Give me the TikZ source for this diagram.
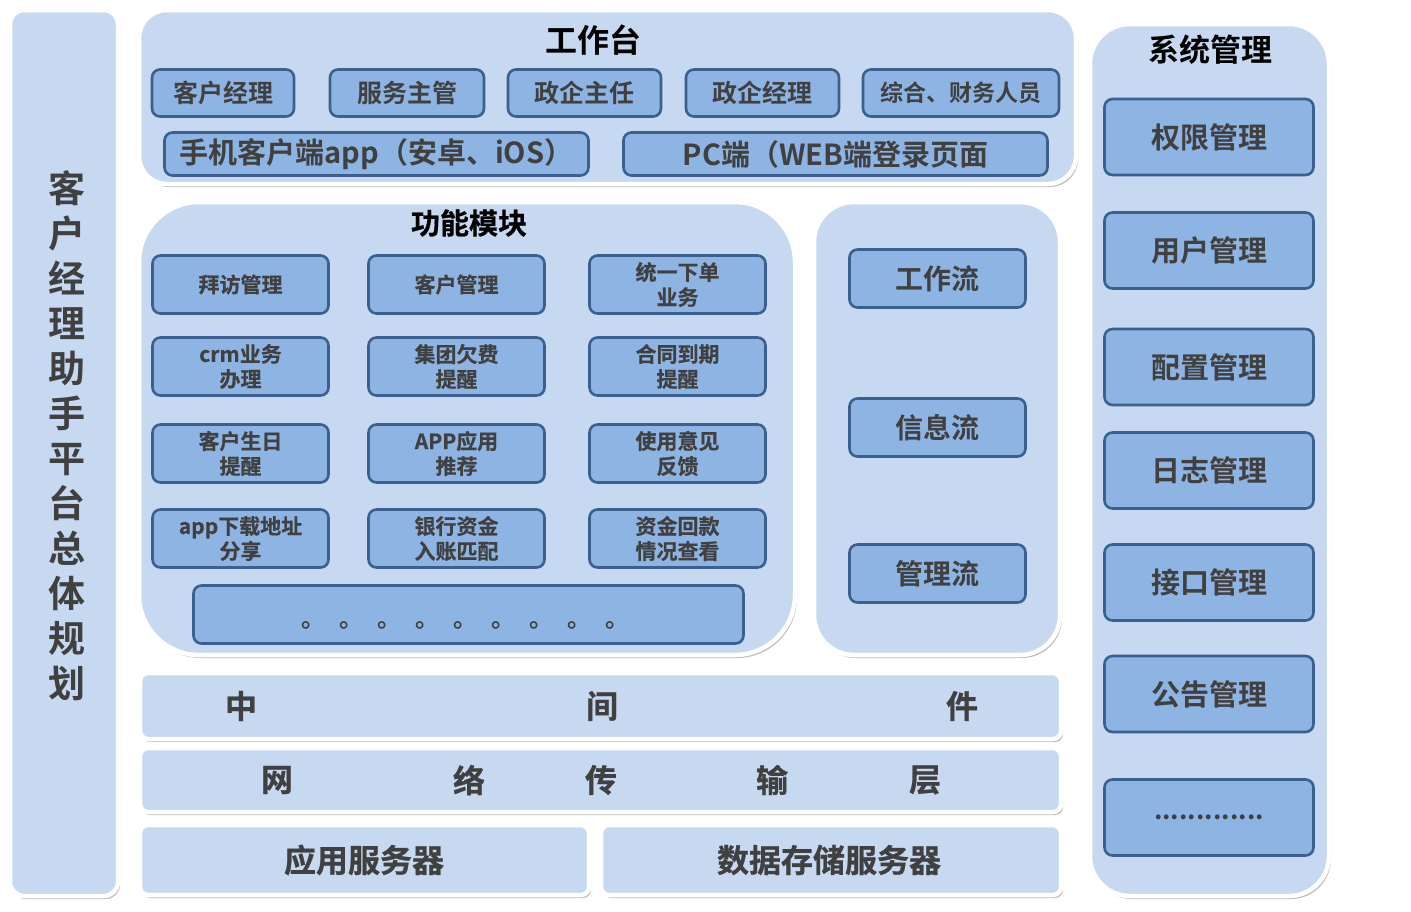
\documentclass[tikz,border=0pt]{standalone}
\usepackage{fontspec}
\setmainfont{Noto Sans CJK SC Bold}
\newfontfamily\barfont{Noto Sans CJK SC Bold}[FakeBold=0.8]
\newfontfamily\gridfont{Noto Sans CJK SC Bold}[FakeBold=0.5]
\usepackage{xcolor}
\usetikzlibrary{positioning,shadows}

\definecolor{panelfill}{HTML}{C6D9F1}
\definecolor{boxfill}{HTML}{8EB4E3}
\definecolor{boxline}{HTML}{3B5F8E}
\definecolor{labelgray}{HTML}{404040}

\begin{document}
\begin{tikzpicture}[
  x=1pt,
  y=-1pt,
  panel/.style={fill=panelfill, draw=white, line width=4.5pt,
    drop shadow={shadow xshift=2pt, shadow yshift=-3pt, opacity=0.45, fill=black!60}},
  modbox/.style={draw=boxline, fill=boxfill, line width=2.6pt, rounded corners=8pt,
    text=labelgray, inner sep=0pt, align=center},
  paneltitle/.style={text=black, inner sep=0pt},
  gridlabel/.style={text=labelgray, align=center, font=\gridfont\fontsize{21}{25}\selectfont},
  barchar/.style={text=labelgray, inner sep=0pt, font=\barfont\fontsize{32}{36}\selectfont},
]
\path[use as bounding box] (0,0) rectangle (1411,911);

% Panels.
\path[panel, rounded corners=14pt] (10,10) rectangle (118,896);
\path[panel, rounded corners=28pt] (139,10) rectangle (1076,184);
\path[panel, rounded corners=60pt] (139,202) rectangle (795,655);
\path[panel, rounded corners=40pt] (814,202) rectangle (1060,655);
\path[panel, rounded corners=40pt] (1090,24) rectangle (1329,896);
\path[panel, rounded corners=8pt] (140,673) rectangle (1061,739);
\path[panel, rounded corners=8pt] (140,748) rectangle (1061,812);
\path[panel, rounded corners=8pt] (140,825) rectangle (589,895);
\path[panel, rounded corners=8pt] (601,825) rectangle (1061,895);

% Left title, one character per line.
\node[text=labelgray, align=center, inner sep=0pt,
  font=\fontsize{37}{45}\selectfont] (plan) at (67,436)
  {客\\户\\经\\理\\助\\手\\平\\台\\总\\体\\规\\划};

% Workbench.
\node[paneltitle, font=\fontsize{32}{36}\selectfont] (wbtitle) at (593,40) {工作台};
\node[modbox, minimum width=142pt, minimum height=47pt, font=\fontsize{25}{28}\selectfont] (mgr) at (223,93) {客户经理};
\node[modbox, minimum width=154pt, minimum height=47pt, font=\fontsize{25}{28}\selectfont] (svc) at (407,93) {服务主管};
\node[modbox, minimum width=153pt, minimum height=47pt, font=\fontsize{25}{28}\selectfont] (gdir) at (584.5,93) {政企主任};
\node[modbox, minimum width=153pt, minimum height=47pt, font=\fontsize{25}{28}\selectfont] (gmgr) at (762.5,93) {政企经理};
\node[modbox, minimum width=196pt, minimum height=47pt, font=\fontsize{23}{26}\selectfont] (fin) at (961,93) {综合、财务人员};
\node[modbox, minimum width=424pt, minimum height=43pt, font=\fontsize{29}{32}\selectfont] (mobile) at (376.5,154) {手机客户端app（安卓、iOS）};
\node[modbox, minimum width=424pt, minimum height=43pt, font=\fontsize{29}{32}\selectfont] (pc) at (835.5,154) {PC端（WEB端登录页面};

% Function modules.
\node[paneltitle, font=\gridfont\fontsize{29}{32}\selectfont] (fntitle) at (469,223) {功能模块};
\foreach \r/\yy in {1/284.5,2/366.5,3/453.5,4/538.5} {
  \foreach \c/\xx in {1/240.5,2/456.5,3/677.5} {
    \node[modbox, minimum width=176pt, minimum height=58pt] (fn-\r-\c) at (\xx,\yy) {};
  }
}
\node[gridlabel] (t11) at (fn-1-1) {拜访管理};
\node[gridlabel] (t12) at (fn-1-2) {客户管理};
\node[gridlabel] (t13) at (fn-1-3) {统一下单\\业务};
\node[gridlabel] (t21) at (fn-2-1) {crm业务\\办理};
\node[gridlabel] (t22) at (fn-2-2) {集团欠费\\提醒};
\node[gridlabel] (t23) at (fn-2-3) {合同到期\\提醒};
\node[gridlabel] (t31) at (fn-3-1) {客户生日\\提醒};
\node[gridlabel] (t32) at (fn-3-2) {APP应用\\推荐};
\node[gridlabel] (t33) at (fn-3-3) {使用意见\\反馈};
\node[gridlabel] (t41) at (fn-4-1) {app下载地址\\分享};
\node[gridlabel] (t42) at (fn-4-2) {银行资金\\入账匹配};
\node[gridlabel] (t43) at (fn-4-3) {资金回款\\情况查看};
\node[modbox, minimum width=550pt, minimum height=58pt] (more) at (468.5,614.5) {};
\node[text=labelgray, inner sep=0pt, anchor=west, font=\fontsize{24}{26}\selectfont] (moredots) at (301,625)
  {。\hspace{14pt}。\hspace{14pt}。\hspace{14pt}。\hspace{14pt}。\hspace{14pt}。\hspace{14pt}。\hspace{14pt}。\hspace{14pt}。};

% Flows.
\node[modbox, minimum width=176pt, minimum height=58pt, font=\fontsize{28}{30}\selectfont] (work) at (937.5,278.5) {工作流};
\node[modbox, minimum width=176pt, minimum height=58pt, font=\fontsize{28}{30}\selectfont] (info) at (937.5,427.5) {信息流};
\node[modbox, minimum width=176pt, minimum height=58pt, font=\fontsize{28}{30}\selectfont] (admin) at (937.5,573.5) {管理流};

% System management.
\node[paneltitle, font=\fontsize{31}{34}\selectfont] (systitle) at (1210,50) {系统管理};
\node[modbox, minimum width=209pt, minimum height=76pt, font=\fontsize{29}{32}\selectfont] (perm) at (1209,137) {权限管理};
\node[modbox, minimum width=209pt, minimum height=76pt, font=\fontsize{29}{32}\selectfont] (user) at (1209,250.5) {用户管理};
\node[modbox, minimum width=209pt, minimum height=76pt, font=\fontsize{29}{32}\selectfont] (conf) at (1209,367) {配置管理};
\node[modbox, minimum width=209pt, minimum height=76pt, font=\fontsize{29}{32}\selectfont] (log) at (1209,470.5) {日志管理};
\node[modbox, minimum width=209pt, minimum height=76pt, font=\fontsize{29}{32}\selectfont] (api) at (1209,582.5) {接口管理};
\node[modbox, minimum width=209pt, minimum height=76pt, font=\fontsize{29}{32}\selectfont] (notice) at (1209,694) {公告管理};
\node[modbox, minimum width=209pt, minimum height=76pt, font=\fontsize{26}{30}\selectfont] (etc) at (1209,817.5) {.............};

% Bottom layers.
\foreach \ch/\xx [count=\i] in {中/241,间/602,件/962} {
  \node[barchar] (mid-\i) at (\xx,706) {\ch};
}
\foreach \ch/\xx [count=\i] in {网/277,络/469,传/601,输/772,层/925} {
  \node[barchar] (net-\i) at (\xx,780) {\ch};
}
\node[barchar] (appsrv) at (364,860) {应用服务器};
\node[barchar] (datasrv) at (829,860) {数据存储服务器};

\end{tikzpicture}
\end{document}
